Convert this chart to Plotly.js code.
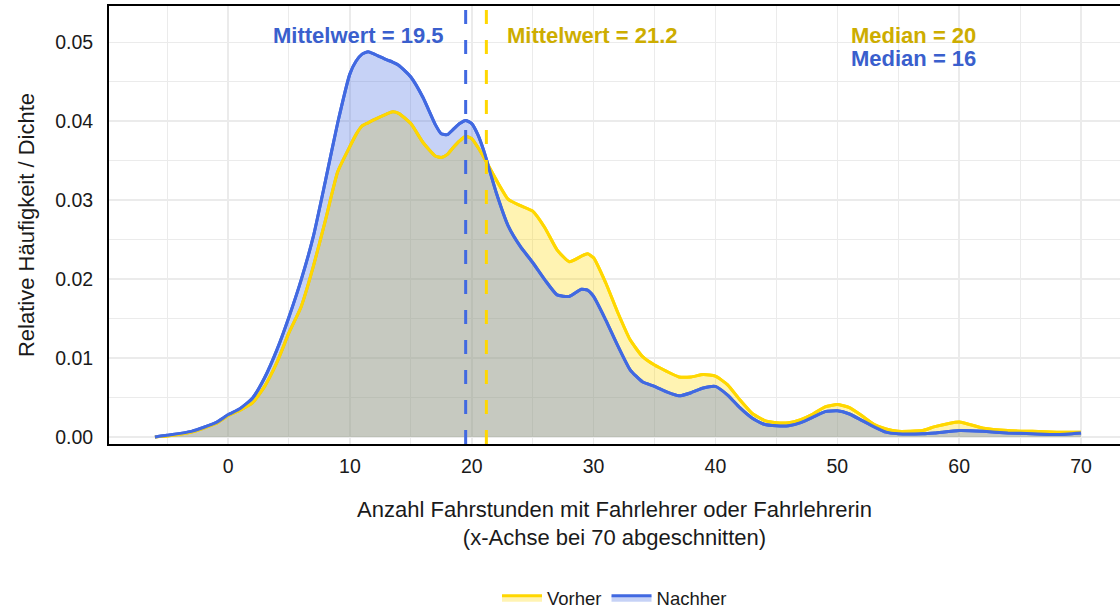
<!DOCTYPE html>
<html>
<head>
<meta charset="utf-8">
<script src="https://cdn.plot.ly/plotly-3.0.1.min.js"></script>
<style>
  body { margin: 0; background: #fff; }
  #chart { width: 1120px; height: 613px; }
</style>
</head>
<body>
<div id="chart"></div>
<script>
// Dichte der Fahrstunden, vorher / nachher
var xVals = [-6, -5, -3, -1, 0, 1, 2, 3, 4, 5, 6, 7, 8, 9, 10, 10.5, 11, 11.5, 12, 13, 13.5, 14, 15, 16, 17, 17.5, 18, 18.5, 19, 19.5, 20, 20.5, 21, 22, 23, 24, 25, 26, 27, 28, 29, 29.5, 30, 31, 32, 33, 34, 35, 36, 37, 38, 39, 40, 41, 42, 43, 44, 45, 46, 47, 48, 49, 50, 51, 52, 53, 54, 55, 57, 58, 60, 62, 64, 66, 68, 70];

var vorher = [0.0000, 0.0001, 0.0006, 0.0017, 0.0027, 0.0034, 0.0043, 0.0064, 0.0094, 0.0132, 0.0165, 0.0216, 0.0275, 0.0336, 0.0368, 0.0383, 0.0394, 0.0398, 0.0402, 0.0409, 0.0412, 0.0410, 0.0397, 0.0373, 0.0356, 0.0354, 0.0358, 0.0367, 0.0375, 0.0381, 0.0378, 0.0367, 0.0354, 0.0326, 0.0301, 0.0293, 0.0286, 0.0265, 0.0237, 0.0222, 0.0229, 0.0232, 0.0227, 0.0195, 0.0157, 0.0123, 0.0102, 0.0091, 0.0083, 0.0076, 0.0076, 0.0079, 0.0077, 0.0066, 0.0047, 0.0030, 0.0021, 0.0018, 0.0018, 0.0022, 0.0029, 0.0038, 0.0041, 0.0037, 0.0027, 0.0016, 0.0010, 0.0007, 0.0008, 0.0013, 0.0019, 0.0011, 0.0008, 0.0007, 0.0006, 0.0006];

var nachher = [0.0000, 0.0002, 0.0007, 0.0018, 0.0028, 0.0036, 0.0049, 0.0075, 0.0110, 0.0152, 0.0199, 0.0254, 0.0325, 0.0398, 0.0460, 0.0476, 0.0485, 0.0488, 0.0485, 0.0478, 0.0475, 0.0471, 0.0456, 0.0430, 0.0396, 0.0384, 0.0383, 0.0390, 0.0397, 0.0401, 0.0397, 0.0383, 0.0362, 0.0310, 0.0267, 0.0241, 0.0221, 0.0199, 0.0180, 0.0178, 0.0187, 0.0186, 0.0178, 0.0148, 0.0115, 0.0085, 0.0070, 0.0064, 0.0057, 0.0052, 0.0056, 0.0062, 0.0064, 0.0053, 0.0037, 0.0024, 0.0016, 0.0014, 0.0014, 0.0018, 0.0025, 0.0032, 0.0033, 0.0029, 0.0021, 0.0013, 0.0006, 0.0004, 0.0004, 0.0005, 0.0008, 0.0007, 0.0005, 0.0004, 0.0003, 0.0005];

var gruppen = ["Vorher", "Nachher"];
var mittelwerte = [21.2, 19.5];
var mediane = [20, 16];

var gelb = "#FFD700", gelbText = "#CDAD00";
var blau = "#4169E1", blauText = "#3A5FCD";
var kurve = {shape: "spline", smoothing: 0.5};

// erst die Flaechen, dann die Linien obendrauf
var traces = [
  {
    x: xVals, y: vorher, name: gruppen[0], type: "scatter", mode: "lines",
    line: Object.assign({color: gelb, width: 3}, kurve),
    fill: "tozeroy", fillcolor: "rgba(255,215,0,0.3)"
  },
  {
    x: xVals, y: nachher, name: gruppen[1], type: "scatter", mode: "lines",
    line: Object.assign({color: blau, width: 3}, kurve),
    fill: "tozeroy", fillcolor: "rgba(65,105,225,0.3)"
  },
  {
    x: xVals, y: vorher, type: "scatter", mode: "lines", showlegend: false,
    line: Object.assign({color: gelb, width: 3}, kurve)
  },
  {
    x: xVals, y: nachher, type: "scatter", mode: "lines", showlegend: false,
    line: Object.assign({color: blau, width: 3}, kurve)
  }
];

var layout = {
  width: 1120, height: 613,
  margin: {l: 109, r: 0, t: 6, b: 169, autoexpand: false},
  paper_bgcolor: "#fff", plot_bgcolor: "#fff",
  font: {family: "Arial, 'Liberation Sans', sans-serif", color: "#1a1a1a"},
  showlegend: true,
  legend: {
    orientation: "h", x: 0.5, xanchor: "center", y: -0.352, yanchor: "middle",
    font: {size: 18.5, color: "#1a1a1a"}, traceorder: "normal", itemwidth: 40
  },
  xaxis: {
    range: [-9.77, 73.2], tickvals: [0, 10, 20, 30, 40, 50, 60, 70],
    showgrid: true, gridcolor: "#ebebeb", gridwidth: 1.6,
    minor: {tickvals: [-5, 5, 15, 25, 35, 45, 55, 65], showgrid: true, gridcolor: "#ebebeb", gridwidth: 1},
    zeroline: false, showline: true, linecolor: "#000", linewidth: 2, mirror: true,
    ticks: "", ticklabelstandoff: 4, automargin: false,
    tickfont: {size: 19.5, color: "#1a1a1a"},
    title: {text: "Anzahl Fahrstunden mit Fahrlehrer oder Fahrlehrerin<br>(x-Achse bei 70 abgeschnitten)",
            font: {size: 22, color: "#1a1a1a"}, standoff: 25}
  },
  yaxis: {
    range: [-0.0009, 0.0546], tickvals: [0, 0.01, 0.02, 0.03, 0.04, 0.05],
    ticktext: ["0.00", "0.01", "0.02", "0.03", "0.04", "0.05"],
    showgrid: true, gridcolor: "#ebebeb", gridwidth: 1.6,
    minor: {tickvals: [0.005, 0.015, 0.025, 0.035, 0.045], showgrid: true, gridcolor: "#ebebeb", gridwidth: 1},
    zeroline: false, showline: true, linecolor: "#000", linewidth: 2,
    ticks: "", ticklabelstandoff: 10, automargin: false,
    tickfont: {size: 19.5, color: "#1a1a1a"},
    title: {text: "Relative Häufigkeit / Dichte", font: {size: 22, color: "#1a1a1a"}, standoff: 14}
  },
  shapes: [
    {type: "line", xref: "x", yref: "paper", x0: mittelwerte[1], x1: mittelwerte[1], y0: 0, y1: 1,
     line: {color: blau, width: 3, dash: "14px,16px"}},
    {type: "line", xref: "x", yref: "paper", x0: mittelwerte[0], x1: mittelwerte[0], y0: 0, y1: 1,
     line: {color: gelb, width: 3, dash: "14px,16px"}}
  ],
  annotations: [
    {x: 17.9, y: 0.0508, xref: "x", yref: "y", xanchor: "right", yanchor: "middle", showarrow: false,
     text: "<b>Mittelwert = " + mittelwerte[1] + "</b>", font: {size: 22, color: blauText}},
    {x: 22.7, y: 0.0508, xref: "x", yref: "y", xanchor: "left", yanchor: "middle", showarrow: false,
     text: "<b>Mittelwert = " + mittelwerte[0] + "</b>", font: {size: 22, color: gelbText}},
    {x: 51.0, y: 0.0509, xref: "x", yref: "y", xanchor: "left", yanchor: "middle", showarrow: false,
     text: "<b>Median = " + mediane[0] + "</b>", font: {size: 22, color: gelbText}},
    {x: 51.0, y: 0.0479, xref: "x", yref: "y", xanchor: "left", yanchor: "middle", showarrow: false,
     text: "<b>Median = " + mediane[1] + "</b>", font: {size: 22, color: blauText}}
  ]
};

Plotly.newPlot("chart", traces, layout, {displayModeBar: false, staticPlot: true});
</script>
</body>
</html>
